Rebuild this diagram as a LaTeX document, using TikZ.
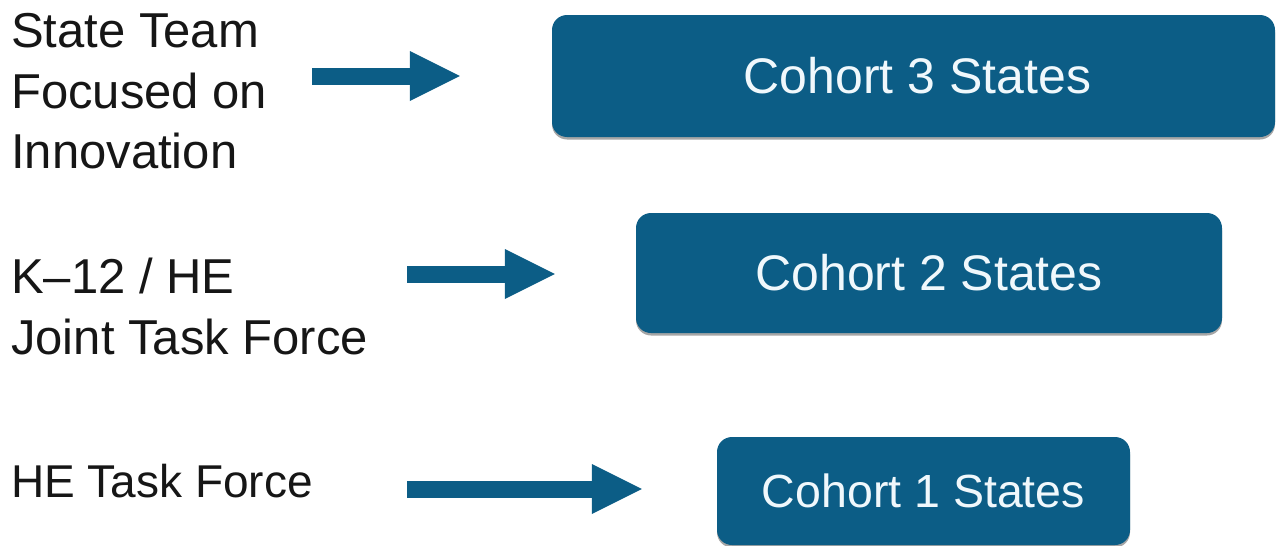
\documentclass[tikz,border=0pt]{standalone}
\usepackage{fontspec}
\setmainfont{Liberation Sans}
\usetikzlibrary{arrows.meta,shadows}
\definecolor{cohortblue}{RGB}{12,93,134}
\definecolor{boxtext}{RGB}{240,248,252}
\definecolor{inktext}{RGB}{22,22,22}

\begin{document}
\begin{tikzpicture}[x=1pt,y=-1pt,
  cohort/.style={fill=cohortblue, rounded corners=15pt, inner sep=0pt,
    text=boxtext, font=\fontsize{50}{60}\selectfont,
    drop shadow={shadow xshift=0pt, shadow yshift=-2.5pt, opacity=0.35, fill=black}},
  grouplabel/.style={anchor=base west, inner sep=0pt, text=inktext,
    font=\fontsize{49}{61}\selectfont},
  flow/.style={draw=cohortblue, line width=17pt,
    -{Triangle[length=50pt,width=50pt,line width=0pt]}}]

  \useasboundingbox (0,0) rectangle (1278,546);

  % group labels on the left
  \node[grouplabel] (team) at (11,47)
    {\vtop{\hbox{State Team}\hbox{Focused on}\hbox{Innovation}}};
  \node[grouplabel] (joint) at (11,293)
    {\vtop{\hbox{K–12 / HE}\hbox{Joint Task Force}}};
  \node[grouplabel, font=\fontsize{46}{56}\selectfont] (he) at (11,497) {HE Task Force};

  % cohort boxes
  \node[cohort, minimum width=723pt, minimum height=122pt] (c3) at (913.5,76)
    {\hspace*{8pt}Cohort 3 States};
  \node[cohort, minimum width=586pt, minimum height=120pt] (c2) at (929,273) {Cohort 2 States};
  \node[cohort, minimum width=413pt, minimum height=108pt,
        font=\fontsize{46.5}{56}\selectfont] (c1) at (923.5,491) {Cohort 1 States};

  % arrow tails
  \coordinate (s3) at (312,76);
  \coordinate (s2) at (407,274);
  \coordinate (s1) at (407,489);

  % arrows
  \draw[flow, shorten >=92pt] (s3) -- (s3 -| c3.west);
  \draw[flow, shorten >=81pt] (s2) -- (s2 -| c2.west);
  \draw[flow, shorten >=75pt] (s1) -- (s1 -| c1.west);
\end{tikzpicture}
\end{document}
